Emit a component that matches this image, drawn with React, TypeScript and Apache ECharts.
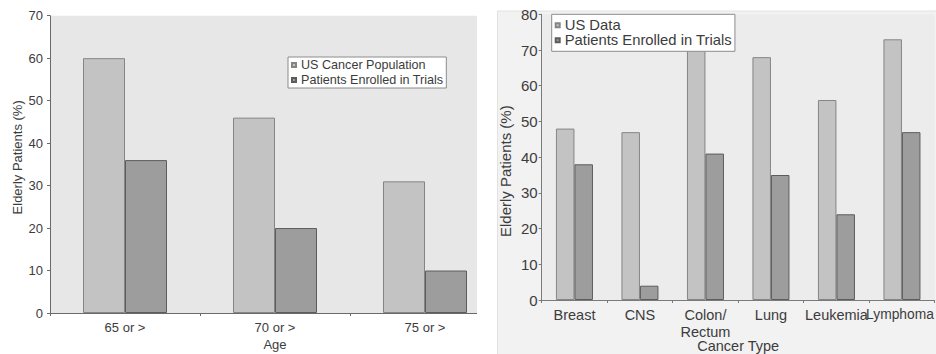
import React, { useEffect, useRef } from "react";
import * as echarts from "echarts";

const FONT = "'Liberation Sans', Arial, Helvetica, sans-serif";

// Left chart: by age
const ageCategories = ["65 or >", "70 or >", "75 or >"];
const usCancerPopulation = [60, 46, 31];
const enrolledByAge = [36, 20, 10];
const leftYMin = 0;
const leftYMax = 70;
const leftYStep = 10;

// Right chart: by cancer type
const cancerTypes = ["Breast", "CNS", "Colon/\nRectum", "Lung", "Leukemia", "Lymphoma"];
const usData = [48, 47, 72, 68, 56, 73];
const enrolledByType = [38, 4, 41, 35, 24, 47];
const rightYMin = 0;
const rightYMax = 80;
const rightYStep = 10;

const LIGHT = { color: "#c3c3c3", borderColor: "#858585", borderWidth: 1 };
const DARK = { color: "#9d9d9d", borderColor: "#5c5c5c", borderWidth: 1 };
const TEXT = "#3c3c3c";

const leftOption = {
  animation: false,
  textStyle: { fontFamily: FONT },
  grid: {
    left: 50,
    top: 15.7,
    width: 450,
    height: 297.3,
    show: true,
    backgroundColor: "#e7e7e7",
    borderWidth: 0,
    containLabel: false,
    outerBoundsMode: "none",
  },
  legend: {
    left: 288,
    top: 57,
    orient: "vertical",
    padding: [1, 3],
    itemGap: 1,
    itemWidth: 4,
    itemHeight: 4,
    icon: "rect",
    backgroundColor: "#ffffff",
    borderColor: "#8c8c8c",
    borderWidth: 1,
    borderRadius: 0,
    textStyle: { fontSize: 12.6, color: TEXT, lineHeight: 14, fontFamily: FONT },
    data: ["US Cancer Population", "Patients Enrolled in Trials"],
  },
  xAxis: {
    type: "category",
    data: ageCategories,
    axisLine: { lineStyle: { color: "#6a6a6a", width: 1 } },
    axisTick: { show: true, length: 3, lineStyle: { color: "#6a6a6a" } },
    axisLabel: { fontSize: 13, color: TEXT, margin: 8, fontFamily: FONT },
    name: "Age",
    nameLocation: "middle",
    nameGap: 25,
    nameMoveOverlap: false,
    nameTextStyle: { fontSize: 13, color: TEXT, fontFamily: FONT },
  },
  yAxis: {
    type: "value",
    min: leftYMin,
    max: leftYMax,
    interval: leftYStep,
    splitLine: { show: false },
    axisLine: { show: true, lineStyle: { color: "#6a6a6a", width: 1 } },
    axisTick: { show: true, length: 3, lineStyle: { color: "#6a6a6a" } },
    axisLabel: { fontSize: 13, color: TEXT, margin: 7, fontFamily: FONT },
    name: "Elderly Patients (%)",
    nameLocation: "middle",
    nameRotate: 90,
    nameGap: 26,
    nameMoveOverlap: false,
    nameTextStyle: { fontSize: 13, color: TEXT, fontFamily: FONT, padding: [0, 0, 0, 14] },
  },
  series: [
    {
      name: "US Cancer Population",
      type: "bar",
      data: usCancerPopulation,
      barGap: "0%",
      barCategoryGap: "44%",
      itemStyle: LIGHT,
    },
    {
      name: "Patients Enrolled in Trials",
      type: "bar",
      data: enrolledByAge,
      barGap: "0%",
      barCategoryGap: "44%",
      itemStyle: DARK,
    },
  ],
};

const RX = 20; // right panel offset inside its canvas

const rightOption = {
  animation: false,
  textStyle: { fontFamily: FONT },
  graphic: [
    {
      type: "rect",
      z: -10,
      silent: true,
      shape: { x: RX + 0.5, y: 11, width: 440, height: 345 },
      style: { fill: "#f2f2f2", stroke: "#e2e2e2", lineWidth: 1 },
    },
  ],
  grid: {
    left: RX + 44.7,
    top: 14.3,
    width: 393,
    height: 285.7,
    show: true,
    backgroundColor: "#ececec",
    borderWidth: 0,
    containLabel: false,
    outerBoundsMode: "none",
  },
  legend: {
    left: RX + 54.7,
    top: 14.3,
    orient: "vertical",
    padding: [3.5, 3],
    itemGap: 0,
    itemWidth: 4,
    itemHeight: 4,
    icon: "rect",
    backgroundColor: "#ffffff",
    borderColor: "#8c8c8c",
    borderWidth: 1,
    borderRadius: 0,
    textStyle: { fontSize: 14.8, color: TEXT, lineHeight: 12, fontFamily: FONT },
    data: ["US Data", "Patients Enrolled in Trials"],
  },
  xAxis: {
    type: "category",
    data: cancerTypes,
    axisLine: { lineStyle: { color: "#7a7a7a", width: 1 } },
    axisTick: { show: true, length: 3, lineStyle: { color: "#7a7a7a" } },
    axisLabel: {
      fontSize: 14.5,
      color: TEXT,
      margin: 6,
      lineHeight: 17,
      interval: 0,
      fontFamily: FONT,
      formatter: (v: string) => (v === "Lymphoma" ? "{edge|" + v + "}" : v),
      rich: {
        edge: { fontSize: 13.8, color: TEXT, fontFamily: FONT, padding: [0, 4, 0, 0] },
      },
    },
    name: "Cancer Type",
    nameLocation: "middle",
    nameGap: 38,
    nameMoveOverlap: false,
    nameTextStyle: { fontSize: 14.5, color: TEXT, fontFamily: FONT },
  },
  yAxis: {
    type: "value",
    min: rightYMin,
    max: rightYMax,
    interval: rightYStep,
    splitLine: { show: false },
    axisLine: { show: true, lineStyle: { color: "#7a7a7a", width: 1 } },
    axisTick: { show: true, length: 3, lineStyle: { color: "#7a7a7a" } },
    axisLabel: { fontSize: 15, color: TEXT, margin: 4, fontFamily: FONT },
    name: "Elderly Patients (%)",
    nameLocation: "middle",
    nameRotate: 90,
    nameGap: 29,
    nameMoveOverlap: false,
    nameTextStyle: { fontSize: 15, color: TEXT, fontFamily: FONT, padding: [0, 28, 0, 0] },
  },
  series: [
    {
      name: "US Data",
      type: "bar",
      data: usData,
      barGap: "0%",
      barCategoryGap: "43.5%",
      itemStyle: LIGHT,
    },
    {
      name: "Patients Enrolled in Trials",
      type: "bar",
      data: enrolledByType,
      barGap: "0%",
      barCategoryGap: "43.5%",
      itemStyle: DARK,
    },
  ],
};

function Chart({ option, width, height }: { option: any; width: number; height: number }) {
  const ref = useRef<HTMLDivElement>(null);
  useEffect(() => {
    const chart = echarts.init(ref.current!, null, { renderer: "svg" });
    chart.setOption(option);
    return () => chart.dispose();
  }, [option]);
  return <div ref={ref} style={{ width, height }} />;
}

export default function App() {
  return (
    <div
      style={{
        position: "absolute",
        left: 0,
        top: 0,
        width: 936,
        height: 354,
        background: "#ffffff",
        overflow: "hidden",
      }}
    >
      <div style={{ position: "absolute", left: 0, top: 0, width: 477, height: 354, overflow: "hidden" }}>
        <Chart option={leftOption} width={520} height={354} />
      </div>
      <div style={{ position: "absolute", left: 477, top: 0, width: 459, height: 354, overflow: "hidden" }}>
        <Chart option={rightOption} width={459} height={354} />
      </div>
    </div>
  );
}
